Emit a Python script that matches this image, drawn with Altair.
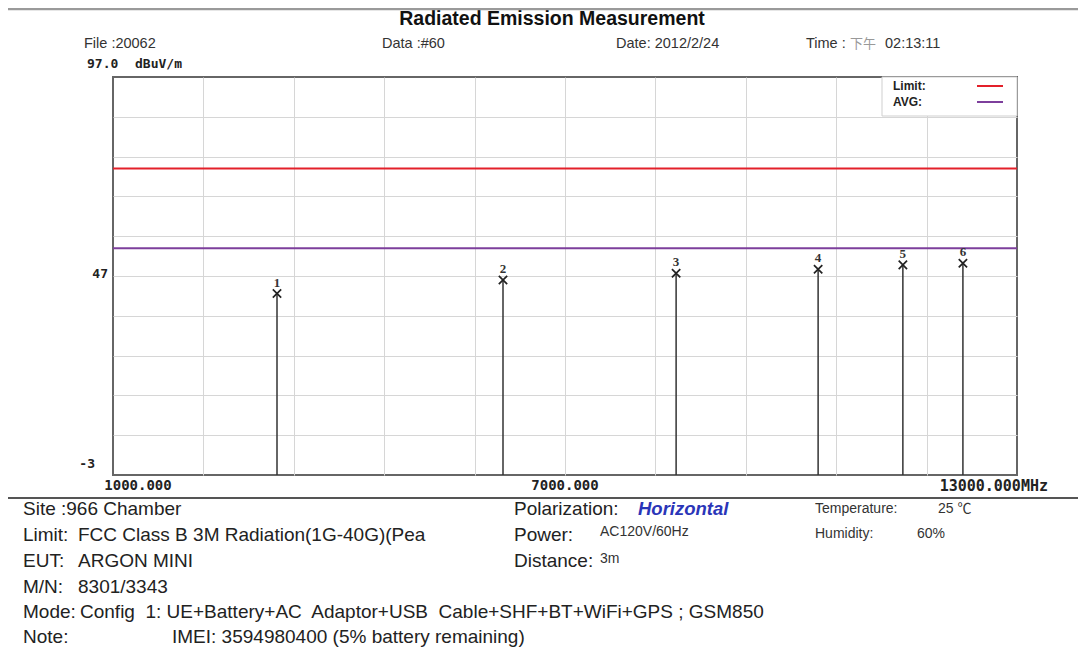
import altair as alt
import pandas as pd

# ---------------- data ----------------
peak_no = ["1", "2", "3", "4", "5", "6"]
peak_freq = [3177, 6177, 8475, 10360, 11485, 12282]      # MHz
peak_level = [42.6, 46.0, 47.7, 48.7, 49.8, 50.2]        # dBuV/m
limit_names = ["Limit", "AVG"]
limit_levels = [74.0, 54.0]
x_domain = [1000, 13000]
y_domain = [-3, 97]
x_grid = [2200, 3400, 4600, 5800, 7000, 8200, 9400, 10600, 11800]
y_grid = [7, 17, 27, 37, 47, 57, 67, 77, 87]
x_tick_labels = ["1000.000", "7000.000", "13000.000MHz"]
y_tick_labels = ["47", "-3"]
y_top_label = ["97.0", "dBuV/m"]

NB = "\u00a0"
title_text = "Radiated Emission Measurement"
header_texts = ["File :20062", "Data :#60", "Date: 2012/2/24", "Time : ", "下午", "02:13:11"]
footer_keys = ["Site", "Limit:", "EUT:", "M/N:", "Mode:", "Note:"]
footer_vals = [":966 Chamber", "FCC Class B 3M Radiation(1G-40G)(Pea", "ARGON MINI", "8301/3343",
               "Config" + NB + " 1: UE+Battery+AC" + NB + " Adaptor+USB" + NB + " Cable+SHF+BT+WiFi+GPS ; GSM850",
               "IMEI: 3594980400 (5% battery remaining)"]
mid_keys = ["Polarization:", "Power:", "Distance:"]
mid_vals = ["Horizontal", "AC120V/60Hz", "3m"]
right_keys = ["Temperature:", "Humidity:"]
right_vals = ["25 ℃", "60%"]

# ---------------- layout ----------------
W, H = 904, 398
SANS = "Liberation Sans, Arial, Noto Sans CJK SC"
MONO = "DejaVu Sans Mono"

peaks = pd.DataFrame({"no": peak_no, "freq": peak_freq, "level": peak_level})
limits = pd.DataFrame({"name": limit_names, "level": limit_levels})
one = pd.DataFrame({"k": [0]})

xs = alt.Scale(domain=x_domain, nice=False, zero=False)
ys = alt.Scale(domain=y_domain, nice=False, zero=False)


def label(text, px, py, size=13, weight="normal", align="left", color="#222",
          font=SANS, style="normal"):
    return alt.Chart(one).mark_text(
        text=text, align=align, baseline="middle", fontSize=size, fontWeight=weight,
        font=font, color=color, fontStyle=style
    ).encode(x=alt.value(px), y=alt.value(py))


def hline(px1, px2, py, color, width):
    return alt.Chart(one).mark_rule(color=color, strokeWidth=width).encode(
        x=alt.value(px1), x2=alt.value(px2), y=alt.value(py))


stems = alt.Chart(peaks).mark_rule(color="#333", strokeWidth=1.5).encode(
    x=alt.X("freq:Q", scale=xs,
            axis=alt.Axis(values=x_grid, grid=True, labels=False, ticks=False, domain=False,
                          title=None, gridColor="#d6d6d6", gridWidth=1)),
    y=alt.Y("level:Q", scale=ys,
            axis=alt.Axis(values=y_grid, grid=True, labels=False, ticks=False, domain=False,
                          title=None, gridColor="#d6d6d6", gridWidth=1)),
    y2=alt.datum(y_domain[0]),
)

markers = alt.Chart(peaks).mark_point(
    shape="M-1,-1L1,1M-1,1L1,-1", size=70, filled=False, color="#222", strokeWidth=1.7, opacity=1
).encode(x="freq:Q", y="level:Q")

numbers = alt.Chart(peaks).mark_text(
    dy=-11, fontSize=13, fontWeight="bold", font="Liberation Serif", color="#333"
).encode(x="freq:Q", y="level:Q", text="no:N")

limit_rules = alt.Chart(limits).mark_rule(strokeWidth=2).encode(
    y="level:Q",
    color=alt.Color("name:N", scale=alt.Scale(domain=limit_names, range=["#e3202a", "#7d3f9c"]),
                    legend=None),
)

# legend box
legend_box = alt.Chart(one).mark_rect(fill="white", stroke="#cfcfcf", strokeWidth=1).encode(
    x=alt.value(769), x2=alt.value(904), y=alt.value(0), y2=alt.value(39))
legend_layers = [
    legend_box,
    label("Limit:", 780, 9, size=12, weight="bold", color="#222"),
    label("AVG:", 780, 25, size=12, weight="bold", color="#222"),
    hline(864, 890, 9, "#e3202a", 2),
    hline(864, 890, 25, "#7d3f9c", 2),
]

# axis labels
y_lab = [
    alt.Chart(one).mark_text(text=y_tick_labels[0], align="right", baseline="middle", fontSize=13,
                             fontWeight="bold", font=MONO, color="#222", dx=-5, dy=-2)
    .encode(x=alt.value(0), y=alt.datum(47, scale=ys)),
    alt.Chart(one).mark_text(text=y_tick_labels[1], align="right", baseline="middle", fontSize=13,
                             fontWeight="bold", font=MONO, color="#222", dx=-18, dy=-11)
    .encode(x=alt.value(0), y=alt.datum(-3, scale=ys)),
    label(y_top_label[0], -26, -13, size=13, weight="bold", font=MONO),
    label(y_top_label[1], 22, -13, size=13, weight="bold", font=MONO),
]
x_lab = [
    alt.Chart(one).mark_text(text=x_tick_labels[0], align="center", baseline="middle", fontSize=14,
                             fontWeight="bold", font=MONO, color="#222", dx=25, dy=11)
    .encode(x=alt.datum(1000, scale=xs), y=alt.value(H)),
    alt.Chart(one).mark_text(text=x_tick_labels[1], align="center", baseline="middle", fontSize=14,
                             fontWeight="bold", font=MONO, color="#222", dy=11)
    .encode(x=alt.datum(7000, scale=xs), y=alt.value(H)),
    alt.Chart(one).mark_text(text=x_tick_labels[2], align="right", baseline="middle", fontSize=15,
                             fontWeight="bold", font=MONO, color="#222", dx=31, dy=11)
    .encode(x=alt.datum(13000, scale=xs), y=alt.value(H)),
]

# header
header = [
    label(title_text, 439, -58, size=19.5, weight="bold", align="center", color="#111"),
    label(header_texts[0], -29, -33, size=14.5, color="#333"),
    label(header_texts[1], 269, -33, size=14.5, color="#333"),
    label(header_texts[2], 503, -33, size=14.5, color="#333"),
    label(header_texts[3], 693, -33, size=14.5, color="#333"),
    label(header_texts[4], 737, -33, size=13, color="#999"),
    label(header_texts[5], 772, -33, size=14.5, color="#333"),
    hline(-105, 965, -68, "#9a9a9a", 2.5),
    hline(-105, 965, 421, "#555555", 2),
]

# footer
rows_y = [432, 458, 484, 510, 535, 560]
FS = 19
val_x = [-52, -35, -35, -35, -33, 59]
footer = []
for i, (k, v) in enumerate(zip(footer_keys, footer_vals)):
    footer.append(label(k, -90, rows_y[i], size=FS, color="#222"))
    footer.append(label(v, val_x[i], rows_y[i], size=FS, color="#222"))
for i, k in enumerate(mid_keys):
    footer.append(label(k, 401, rows_y[i], size=FS, color="#222"))
footer.append(label(mid_vals[0], 525, rows_y[0], size=18.5, weight="bold", style="italic", color="#2a35b8"))
footer.append(label(mid_vals[1], 487, 455, size=14, color="#333"))
footer.append(label(mid_vals[2], 487, 482, size=14, color="#333"))
footer.append(label(right_keys[0], 702, 432, size=14, color="#333"))
footer.append(label(right_vals[0], 825, 432, size=14, color="#333"))
footer.append(label(right_keys[1], 702, 457, size=14, color="#333"))
footer.append(label(right_vals[1], 804, 457, size=14, color="#333"))

chart = alt.layer(
    stems, limit_rules, markers, numbers, *legend_layers, *y_lab, *x_lab, *header, *footer
).properties(
    width=W, height=H,
    autosize=alt.AutoSizeParams(type="none"),
    padding={"left": 105, "top": 69, "right": 61, "bottom": 177},
    background="white",
).configure_view(stroke="#666", strokeWidth=2)

chart.save("out.html", embed_options={"renderer": "svg", "actions": False})
